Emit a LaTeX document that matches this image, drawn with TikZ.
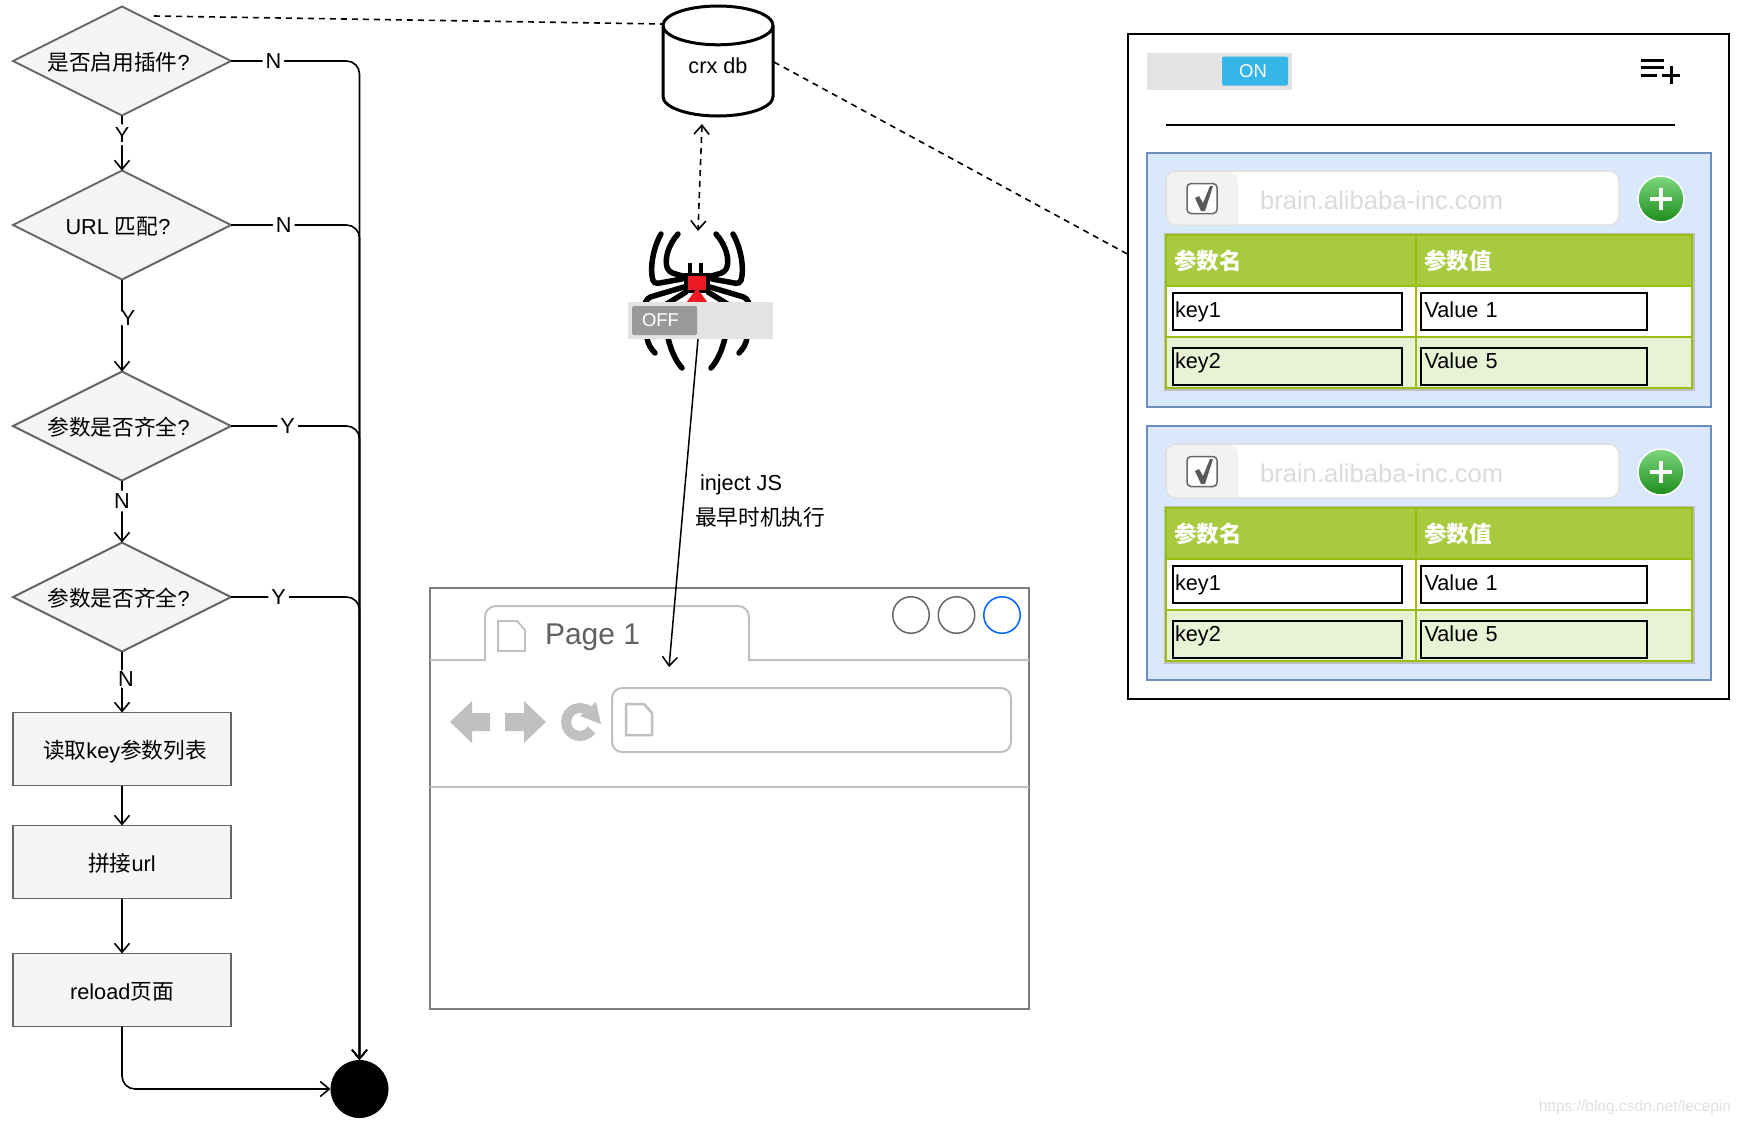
\documentclass[tikz,border=0pt]{standalone}
\usepackage{fontspec}
\setmainfont{Liberation Sans}
\newfontfamily\cjk{Noto Sans CJK SC}
\usetikzlibrary{shapes,arrows.meta,positioning}
\definecolor{flowgray}{HTML}{666666}
\definecolor{flowfill}{HTML}{F5F5F5}
\definecolor{winedge}{HTML}{C0C0C0}
\definecolor{panelfill}{HTML}{DAE8FC}
\definecolor{paneledge}{HTML}{6C8EBF}
\definecolor{headgreen}{HTML}{A7CA3F}
\definecolor{cellgreen}{HTML}{96BE14}
\definecolor{rowgreen}{HTML}{EAF2D6}
\definecolor{onblue}{HTML}{36B5E8}
\definecolor{spiderred}{HTML}{ED1C24}
\definecolor{addtop}{HTML}{7ED87E}
\definecolor{addbottom}{HTML}{1C8C1C}
\begin{document}
\begin{tikzpicture}[
        x=1pt, y=-1pt, >={Straight Barb[length=9pt,width=15pt]},
        font=\fontsize{21.7}{26}\selectfont, outer sep=0pt,
        decision/.style={diamond, draw=flowgray, fill=flowfill, line width=2pt, minimum width=218pt, minimum height=109pt, inner sep=0pt, aspect=2, text height=19pt, text depth=0pt},
        process/.style={rectangle, draw=flowgray, fill=flowfill, line width=1.5pt, minimum width=218pt, minimum height=73pt, text height=19pt, text depth=0pt},
        flow/.style={->, line width=1.6pt, rounded corners=13pt},
        flowlabel/.style={fill=white, inner sep=3pt},
        link/.style={line width=1.6pt, dash pattern=on 6pt off 5pt},
        leg/.style={line width=5.5pt, line cap=round, rounded corners=4pt},
        toggle/.style={rectangle, fill=black!11, minimum width=145pt, minimum height=37pt},
        knob/.style={rectangle, rounded corners=1.5pt, text=white, minimum height=29pt, font=\fontsize{18.5}{22}\selectfont},
        winline/.style={draw=winedge, line width=2pt},
        docicon/.style={draw=winedge, line width=2.5pt, fill=white},
        winbutton/.style={circle, draw=flowgray, line width=1.5pt, minimum size=36.5pt},
        panel/.style={rectangle, draw=paneledge, fill=panelfill, line width=1.5pt, minimum width=564pt, minimum height=254pt},
        urlfield/.style={rectangle, draw=black!12, fill=white, line width=1.5pt, rounded corners=10pt, minimum width=453pt, minimum height=54pt},
        checkcell/.style={draw=none, fill=black!5},
        checkbox/.style={rectangle, draw=flowgray, fill=white, line width=1.5pt, rounded corners=4pt, minimum size=30pt},
        placeholder/.style={text=black!14, inner sep=0pt, font=\fontsize{25.6}{30}\selectfont},
        addbtn/.style={circle, draw=white, line width=1.5pt, top color=addtop, bottom color=addbottom, minimum size=46pt},
        namehead/.style={rectangle, draw=cellgreen, fill=headgreen, line width=1.5pt, minimum width=250pt, minimum height=51pt, text=white, text width=234pt, align=left, font=\cjk\bfseries\fontsize{22.5}{26}\selectfont},
        valuehead/.style={namehead, minimum width=276pt, text width=260pt},
        namecell/.style={rectangle, draw=cellgreen, line width=1.5pt, minimum width=250pt, minimum height=51pt},
        valuecell/.style={namecell, minimum width=276pt},
        keybox/.style={rectangle, draw=black, line width=1.8pt, minimum width=229pt, minimum height=37pt, text width=225pt, text height=16pt, text depth=5pt, inner xsep=2pt, inner ysep=0pt, align=left},
        valuebox/.style={keybox, minimum width=226pt, text width=222pt}
    ]
    \useasboundingbox (0,0) rectangle (1739,1125);

    % Flow chart
    \node[decision] (enabled) at (122,61) {{\cjk 是否启用插件}?\hspace*{7pt}};
    \node[decision, below=55pt of enabled] (urlmatch) {URL {\cjk 匹配}?\hspace*{8pt}};
    \node[decision, below=92pt of urlmatch] (paramsa) {{\cjk 参数是否齐全}?\hspace*{7pt}};
    \node[decision, below=62pt of paramsa] (paramsb) {{\cjk 参数是否齐全}?\hspace*{7pt}};
    \node[process, below=61pt of paramsb] (readkeys) {\hspace*{6pt}{\cjk 读取}key{\cjk 参数列表}};
    \node[process, below=40pt of readkeys] (joinurl) {{\cjk 拼接}url};
    \node[process, below=55pt of joinurl] (reload) {reload{\cjk 页面}};
    \node[circle, fill=black, minimum size=58pt] (enddot) at (359.5,1089) {};

    % Flow connections
    \draw[flow] (enabled) -- node[flowlabel, pos=0.35] {Y} (urlmatch);
    \draw[flow] (urlmatch) -- node[flowlabel, pos=0.42, xshift=6pt] {Y} (paramsa);
    \draw[flow] (paramsa) -- node[flowlabel, pos=0.33] {N} (paramsb);
    \draw[flow] (paramsb) -- node[flowlabel, pos=0.45, xshift=4pt] {N} (readkeys);
    \draw[flow] (readkeys) -- (joinurl);
    \draw[flow] (joinurl) -- (reload);
    \draw[flow] (enabled.east) -- node[flowlabel, pos=0.33] {N} (enabled.east -| enddot.north) -- (enddot.north);
    \draw[flow] (urlmatch.east) -- node[flowlabel, pos=0.41] {N} (urlmatch.east -| enddot.north) -- (enddot.north);
    \draw[flow] (paramsa.east) -- node[flowlabel, pos=0.44] {Y} (paramsa.east -| enddot.north) -- (enddot.north);
    \draw[flow] (paramsb.east) -- node[flowlabel, pos=0.37] {Y} (paramsb.east -| enddot.north) -- (enddot.north);
    \draw[flow] (reload.south) -- (reload.south |- enddot.west) -- (enddot.west);

    % Database
    \node[cylinder, draw=black, fill=white, line width=3pt, shape border rotate=90, aspect=0.59, anchor=shape center, minimum width=110pt, minimum height=110pt] (crxdb) at (718,61) {\raisebox{1pt}[0pt][0pt]{crx db}};
    \coordinate (flowtop) at (154,16);
    \coordinate (dbleft) at (663,24);
    \coordinate (dbright) at (774,62);
    \coordinate (dbbottom) at (702,124);
    \coordinate (spidertop) at (698,231);
    \coordinate (panelside) at (1131,256);
    \draw[link] (flowtop) -- (dbleft);
    \draw[link] (dbright) -- (panelside);
    \draw[<->, link] (dbbottom) -- (spidertop);

    % Spider
    \draw[leg] (661,234) .. controls (652,250) and (650,270) .. (654,284) -- (682,279);
    \draw[leg] (678,234) .. controls (668,245) and (664,260) .. (669,272) -- (686,277);
    \draw[leg] (733,234) .. controls (742,250) and (744,270) .. (740,284) -- (712,279);
    \draw[leg] (716,234) .. controls (726,245) and (730,260) .. (725,272) -- (708,277);
    \draw[leg] (684,287) -- (647,298) -- (645,304);
    \draw[leg] (686,292) -- (665,305);
    \draw[leg] (710,287) -- (747,298) -- (749,304);
    \draw[leg] (708,292) -- (729,305);
    \draw[leg] (647,338) .. controls (648,344) and (651,349) .. (655,353);
    \draw[leg] (668,338) .. controls (671,350) and (675,360) .. (682,368);
    \draw[leg] (747,338) .. controls (746,344) and (743,349) .. (739,353);
    \draw[leg] (725,338) .. controls (722,350) and (718,360) .. (711,368);
    \draw[line width=4pt] (690,263) -- (690,275);
    \draw[line width=4pt] (701,263) -- (701,275);
    \fill[black] (684,273) rectangle (710,293);
    \fill[spiderred] (688,276) rectangle (706,290);
    \fill[spiderred] (686,303) -- (697,288) -- (708,303) -- cycle;

    % Off switch
    \node[toggle] (offbar) at (700.5,320.5) {};
    \node[knob, fill=black!40, minimum width=65pt, right=4pt of offbar.west] (offknob) {\hspace*{-8pt}OFF};

    % Browser window
    \node[rectangle, draw=flowgray!85, fill=white, line width=2pt, minimum width=599pt, minimum height=421pt] (browser) at (729.5,798.5) {};
    \draw[winline] (browser.west |- 0,660) -- (485,660) -- (485,630) [rounded corners=11pt] -- (485,606) -- (749,606) -- (749,630) [sharp corners] -- (749,660) -- (browser.east |- 0,660);
    \draw[winline] (browser.west |- 0,787) -- (browser.east |- 0,787);
    \node[winbutton] (btnmin) at (911,615) {};
    \node[winbutton, right=9pt of btnmin] (btnmax) {};
    \node[winbutton, draw=blue!60!cyan, right=9pt of btnmax] (btnclose) {};
    \node[anchor=west, inner sep=0pt, text=black!62, font=\fontsize{30}{36}\selectfont] (pagetitle) at (545,637) {Page 1};
    \draw[docicon, line width=1.8pt] (498,621) -- (517,621) -- (525,630) -- (525,651) -- (498,651) -- cycle;
    \node[rectangle, winline, rounded corners=10pt, minimum width=399pt, minimum height=64pt] (addressbar) at (811.5,720) {};
    \draw[docicon] (626,704) -- (644,704) -- (652,713) -- (652,735) -- (626,735) -- cycle;
    \fill[winedge] (450,722) -- (472,701) -- (472,713) -- (490,713) -- (490,731) -- (472,731) -- (472,743) -- cycle;
    \fill[winedge] (546,722) -- (524,701) -- (524,713) -- (505,713) -- (505,731) -- (524,731) -- (524,743) -- cycle;
    \draw[winedge, line width=10pt] (590,712) arc[start angle=45, end angle=325, radius=14pt];
    \fill[winedge] (596,702) -- (601,724) -- (580,716) -- cycle;

    % Inject arrow
    \coordinate (injectfrom) at (698,339);
    \coordinate (injectto) at (669,667);
    \draw[->, line width=1.5pt] (injectfrom) -- (injectto);
    \node[anchor=west, inner sep=0pt] (injectlabel) at (700,485) {inject JS};
    \node[anchor=west, inner sep=0pt] (injecttime) at (695,517) {\cjk 最早时机执行};

    % Settings window
    \node[rectangle, draw=black, line width=2pt, minimum width=601pt, minimum height=665pt] (settings) at (1428.5,366.5) {};
    \node[toggle] (onbar) at (1219.5,71) {};
    \node[knob, fill=onblue, minimum width=66pt, left=4pt of onbar.east] (onknob) {\hspace*{-4pt}ON};
    \draw[line width=3pt] (1641,60) -- (1664,60);
    \draw[line width=3pt] (1641,67) -- (1664,67);
    \draw[line width=3pt] (1641,75) -- (1657,75);
    \draw[line width=3pt] (1671,66) -- (1671,84);
    \draw[line width=3pt] (1662,75) -- (1680,75);
    \draw[line width=1.8pt] (1166,125) -- (1675,125);

    % First rule
    \node[panel] (panelone) at (1429,280) {};
    \node[urlfield, below right=18pt and 19pt of panelone.north west] (urlone) {};
    \fill[checkcell, rounded corners=9pt] (1167,172) -- (1238,172) [sharp corners] -- (1238,224) [rounded corners=9pt] -- (1167,224) -- cycle;
    \node[checkbox] (checkone) at (1202,198.5) {};
    \fill[black!65] (1195,198) -- (1199,196) -- (1203,203) -- (1210,186) -- (1213,186) -- (1205,211) -- (1201,211) -- cycle;
    \node[placeholder, anchor=west] (hostone) at (1260,200) {brain.alibaba-inc.com};
    \node[addbtn] (addone) at (1661,199) {};
    \draw[white, line width=4.5pt] ([xshift=-11pt]addone.center) -- ([xshift=11pt]addone.center);
    \draw[white, line width=4.5pt] ([yshift=-11pt]addone.center) -- ([yshift=11pt]addone.center);
    \draw[black!25, line width=3pt] (1165,234) rectangle (1693,389);
    \node[namehead, below right=10pt and 0pt of urlone.south west] (nameheadone) {参数名};
    \node[valuehead, right=0pt of nameheadone] (valueheadone) {参数值};
    \node[namecell, fill=white, below=0pt of nameheadone] (keyrowone) {};
    \node[valuecell, fill=white, below=0pt of valueheadone] (valrowone) {};
    \node[namecell, fill=rowgreen, below=0pt of keyrowone] (keyrowtwo) {};
    \node[valuecell, fill=rowgreen, below=0pt of valrowone] (valrowtwo) {};
    \node[keybox, right=7pt of keyrowone.west] (keyone) {key1};
    \node[valuebox, right=5pt of valrowone.west] (valueone) {\hspace*{1.5pt}Value 1};
    \node[keybox, right=7pt of keyrowtwo.west, yshift=-4pt] (keytwo) {\raisebox{4pt}{key2}};
    \node[valuebox, right=5pt of valrowtwo.west, yshift=-4pt] (valuetwo) {\hspace*{1.5pt}\raisebox{4pt}{Value 5}};

    % Second rule
    \node[panel] (paneltwo) at (1429,553) {};
    \node[urlfield, below right=18pt and 19pt of paneltwo.north west] (urltwo) {};
    \fill[checkcell, rounded corners=9pt] (1167,445) -- (1238,445) [sharp corners] -- (1238,497) [rounded corners=9pt] -- (1167,497) -- cycle;
    \node[checkbox] (checktwo) at (1202,471.5) {};
    \fill[black!65] (1195,471) -- (1199,469) -- (1203,476) -- (1210,459) -- (1213,459) -- (1205,484) -- (1201,484) -- cycle;
    \node[placeholder, anchor=west] (hosttwo) at (1260,473) {brain.alibaba-inc.com};
    \node[addbtn] (addtwo) at (1661,472) {};
    \draw[white, line width=4.5pt] ([xshift=-11pt]addtwo.center) -- ([xshift=11pt]addtwo.center);
    \draw[white, line width=4.5pt] ([yshift=-11pt]addtwo.center) -- ([yshift=11pt]addtwo.center);
    \draw[black!25, line width=3pt] (1165,507) rectangle (1693,662);
    \node[namehead, below right=10pt and 0pt of urltwo.south west] (nameheadtwo) {参数名};
    \node[valuehead, right=0pt of nameheadtwo] (valueheadtwo) {参数值};
    \node[namecell, fill=white, below=0pt of nameheadtwo] (keyrowthree) {};
    \node[valuecell, fill=white, below=0pt of valueheadtwo] (valrowthree) {};
    \node[namecell, fill=rowgreen, below=0pt of keyrowthree] (keyrowfour) {};
    \node[valuecell, fill=rowgreen, below=0pt of valrowthree] (valrowfour) {};
    \node[keybox, right=7pt of keyrowthree.west] (keythree) {key1};
    \node[valuebox, right=5pt of valrowthree.west] (valuethree) {\hspace*{1.5pt}Value 1};
    \node[keybox, right=7pt of keyrowfour.west, yshift=-4pt] (keyfour) {\raisebox{4pt}{key2}};
    \node[valuebox, right=5pt of valrowfour.west, yshift=-4pt] (valuefour) {\hspace*{1.5pt}\raisebox{4pt}{Value 5}};

    % Watermark
    \node[anchor=east, inner sep=0pt, text=black!12, font=\fontsize{15.5}{18}\selectfont] (watermark) at (1731,1107) {https://blog.csdn.net/lecepin};

    \end{tikzpicture}
\end{document}
